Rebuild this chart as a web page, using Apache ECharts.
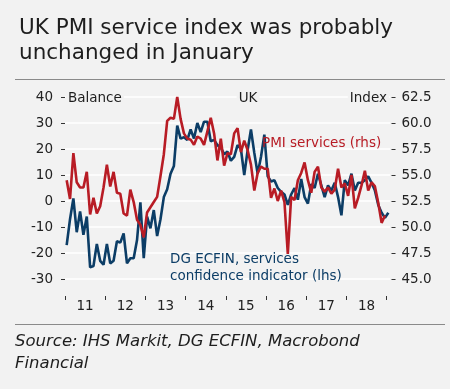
<!DOCTYPE html>
<html>
<head>
<meta charset="utf-8">
<script src="https://cdn.jsdelivr.net/npm/echarts@6/dist/echarts.min.js"></script>
<style>
html,body{margin:0;padding:0;background:#f2f2f2}
#chart{width:450px;height:389px}
</style>
</head>
<body>
<div id="chart"></div>
<script>
// monthly, Jan 2011 .. Dec 2018 (PMI) / Jan 2019 (ECFIN)
var yearLabels = ['11','12','13','14','15','16','17','18'];
var balanceTicks = [-30,-20,-10,0,10,20,30,40];
var indexTicks = [45,47.5,50,52.5,55,57.5,60,62.5];

var pmiServices = [
    54.5,52.7,57.1,54.3,53.8,53.8,55.3,51.2,52.8,51.3,52.0,53.8,
    56.0,53.9,55.3,53.3,53.2,51.3,51.1,53.6,52.4,50.7,50.2,49.0,
    51.4,51.9,52.4,52.9,54.9,57.0,60.2,60.5,60.4,62.5,60.4,59.0,
    58.5,58.4,57.9,58.7,58.5,57.9,59.2,60.5,59.0,56.4,58.5,55.9,
    57.1,57.0,59.0,59.5,57.2,58.3,57.4,56.0,53.5,55.2,55.8,55.6,
    55.6,52.8,53.7,52.5,53.5,52.4,47.4,52.9,52.6,54.5,55.2,56.2,
    54.5,53.3,55.3,55.8,53.8,53.4,53.8,53.2,53.6,55.6,53.8,54.2,
    53.0,55.0,51.8,52.8,54.0,55.4,53.5,54.3,53.9,52.3,50.4,51.1
];
var ecfinServices = [
    -17,-7,1,-12,-4,-13,-6,-25.5,-25,-16.5,-23,-24.5,
    -16.5,-24,-23,-15.5,-16,-12.5,-24,-22,-22,-15,-0.5,-22,
    -6,-10.5,-3.5,-13.5,-7,1.5,4.5,10.5,13.5,29,24,24.5,
    23.5,27.5,24,30,26.5,30.5,30.5,23,23.5,21.5,20.5,18,
    19,15.5,17,21.5,20,10,19.5,27.5,18.5,10.5,17,25.5,
    9.5,7.5,8,5,3.5,2.5,-1.5,2.5,5,0.5,8.5,1.5,
    -1,6.5,5,10.5,6,1.5,6,4,7,1.5,-5.5,8,
    6,10.5,4,7,7,8,9.5,7,4,-1.5,-4.5,-6.5,
    -4.5
];

function toPoints(arr){
    return arr.map(function(v,i){ return [i+0.5, v]; });
}
var yearTicks = [], yearMids = [];
for (var i = 0; i <= yearLabels.length; i++) yearTicks.push(i*12);
for (var i = 0; i < yearLabels.length; i++) yearMids.push(i*12+6);

var font = 'DejaVu Sans';
var red = '#b81c25', blue = '#0c3d66', bg = '#f2f2f2';

function label(x, y, text, align, color){
    return {type:'text', x:x, y:y, z:100, style:{
        text:text, fill:color || '#1e1e1e', font:'13.5px "DejaVu Sans"',
        textAlign:align || 'left', textVerticalAlign:'middle',
        backgroundColor:bg, padding:[0,2]
    }};
}

var chart = echarts.init(document.getElementById('chart'));
chart.setOption({
    backgroundColor:bg,
    animation:false,
    title:{
        text:'UK PMI service index was probably\nunchanged in January',
        left:14, top:11,
        textStyle:{fontFamily:font, fontSize:21.5, fontWeight:'normal', color:'#1e1e1e', lineHeight:25}
    },
    grid:{left:65, right:60, top:97, bottom:110},
    xAxis:{
        type:'value', min:0, max:97, offset:17,
        axisLine:{show:false, onZero:false},
        splitLine:{show:false},
        axisTick:{customValues:yearTicks, length:4, lineStyle:{color:'#333'}},
        axisLabel:{
            customValues:yearMids,
            formatter:function(v){ return yearLabels[(v-6)/12]; },
            margin:3, fontFamily:font, fontSize:13.5, color:'#222'
        }
    },
    yAxis:[{
        type:'value',
        min:balanceTicks[0], max:balanceTicks[balanceTicks.length-1],
        interval:balanceTicks[1]-balanceTicks[0],
        offset:2,
        axisLine:{show:false},
        axisTick:{show:true, length:4, lineStyle:{color:'#333'}},
        axisLabel:{margin:10, fontFamily:font, fontSize:13.5, color:'#222'},
        splitLine:{lineStyle:{color:'#ffffff', width:1.5}}
    },{
        type:'value', position:'right',
        min:indexTicks[0], max:indexTicks[indexTicks.length-1],
        interval:indexTicks[1]-indexTicks[0],
        offset:1.5,
        axisLine:{show:false},
        axisTick:{show:true, length:4, lineStyle:{color:'#333'}},
        axisLabel:{margin:10, fontFamily:font, fontSize:13.5, color:'#222',
            formatter:function(v){ return v.toFixed(1); }},
        splitLine:{show:false}
    }],
    series:[{
        name:'DG ECFIN, services confidence indicator (lhs)',
        type:'line', yAxisIndex:0,
        data:toPoints(ecfinServices),
        showSymbol:false,
        lineStyle:{color:blue, width:2.6},
        itemStyle:{color:blue}
    },{
        name:'PMI services (rhs)',
        type:'line', yAxisIndex:1,
        data:toPoints(pmiServices),
        showSymbol:false,
        lineStyle:{color:red, width:2.6},
        itemStyle:{color:red}
    }],
    graphic:[
        {type:'line', shape:{x1:15, y1:79.5, x2:445, y2:79.5}, style:{stroke:'#8a8a8a', lineWidth:1}},
        {type:'line', shape:{x1:15, y1:324.5, x2:445, y2:324.5}, style:{stroke:'#8a8a8a', lineWidth:1}},
        label(66, 98, 'Balance', 'left'),
        label(248, 98, 'UK', 'center'),
        label(389, 98, 'Index', 'right'),
        {type:'text', x:262, y:143, z:100, style:{text:'PMI services (rhs)', fill:red, font:'13.5px "DejaVu Sans"', textVerticalAlign:'middle'}},
        {type:'text', x:170, y:251, z:100, style:{text:'DG ECFIN, services\nconfidence indicator (lhs)', fill:blue, font:'13.5px "DejaVu Sans"', lineHeight:17}},
        {type:'text', x:15, y:331, style:{text:'Source: IHS Markit, DG ECFIN, Macrobond\nFinancial', fill:'#1e1e1e', font:'italic 16.5px "DejaVu Sans"', lineHeight:21.5}}
    ]
});
</script>
</body>
</html>
